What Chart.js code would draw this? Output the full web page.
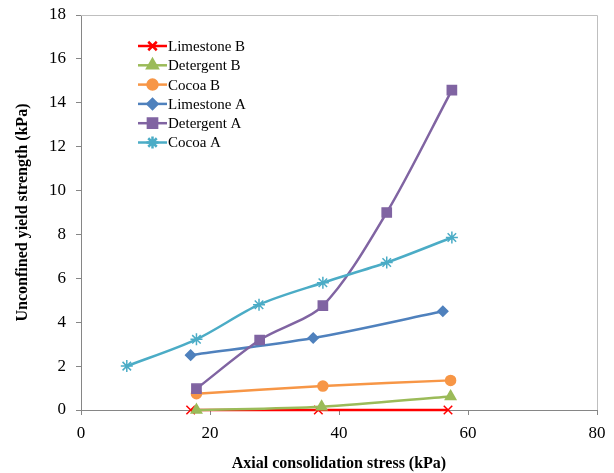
<!DOCTYPE html>
<html>
<head>
<meta charset="utf-8">
<script src="https://cdn.jsdelivr.net/npm/chart.js@4.4.0/dist/chart.umd.min.js"></script>
<style>
  html, body { margin: 0; padding: 0; background: #fff; }
  #wrap { width: 614px; height: 473px; }
</style>
</head>
<body>
<div id="wrap"><canvas id="myChart"></canvas></div>
<script>
const seriesNames = ['Limestone B', 'Detergent B', 'Cocoa B', 'Limestone A', 'Detergent A', 'Cocoa A']

const limestoneBX = [17.0, 36.8, 56.9]
const limestoneBY = [0, 0, 0]
const detergentBX = [17.9, 37.3, 57.3]
const detergentBY = [0, 0.15, 0.62]
const cocoaBX = [17.9, 37.5, 57.3]
const cocoaBY = [0.74, 1.09, 1.35]
const limestoneAX = [17.0, 36.0, 56.1]
const limestoneAY = [2.5, 3.28, 4.5]
const detergentAX = [17.9, 27.7, 37.5, 47.4, 57.5]
const detergentAY = [0.97, 3.19, 4.76, 9.0, 14.58]
const cocoaAX = [7.1, 17.9, 27.6, 37.5, 47.4, 57.5]
const cocoaAY = [2.0, 3.22, 4.8, 5.8, 6.72, 7.86]

const xTicks = [0, 20, 40, 60, 80]
const yTicks = [0, 2, 4, 6, 8, 10, 12, 14, 16, 18]

function pts(xs, ys) {
  return xs.map((x, i) => ({ x: x, y: ys[i] }))
}

const styles = [
  { color: '#FF0000', point: 'crossRot', radius: 6 },
  { color: '#9BBB59', point: 'triangle', radius: 6 },
  { color: '#F79646', point: 'circle', radius: 5 },
  { color: '#4F81BD', point: 'rectRot', radius: 5 },
  { color: '#8064A2', point: 'rect', radius: 6.5 },
  { color: '#4BACC6', point: 'star', radius: 6 }
]

const allData = [
  pts(limestoneBX, limestoneBY),
  pts(detergentBX, detergentBY),
  pts(cocoaBX, cocoaBY),
  pts(limestoneAX, limestoneAY),
  pts(detergentAX, detergentAY),
  pts(cocoaAX, cocoaAY)
]

const datasets = seriesNames.map((name, i) => ({
  label: name,
  data: allData[i],
  showLine: true,
  clip: false,
  borderColor: styles[i].color,
  backgroundColor: styles[i].color,
  borderWidth: 2.5,
  tension: 0.3,
  pointStyle: styles[i].point,
  pointRadius: styles[i].radius,
  pointBorderWidth: 1.5,
  pointHoverRadius: styles[i].radius,
  order: seriesNames.length - i
}))

const serif = '"Liberation Serif", "Times New Roman", serif'

// light grey frame on the top and right of the plot
const framePlugin = {
  id: 'frame',
  beforeDatasetsDraw(chart) {
    const { ctx, chartArea: a } = chart
    ctx.save()
    ctx.strokeStyle = '#BFBFBF'
    ctx.lineWidth = 1
    ctx.beginPath()
    ctx.moveTo(a.left, a.top + 0.5)
    ctx.lineTo(a.right + 0.5, a.top + 0.5)
    ctx.lineTo(a.right + 0.5, a.bottom)
    ctx.stroke()
    ctx.restore()
  }
}

// legend drawn inside the plot area, top-left
const innerLegend = {
  id: 'innerLegend',
  afterDraw(chart) {
    const ctx = chart.ctx
    const x0 = 138, x1 = 167, y0 = 46, step = 19.3
    ctx.save()
    chart.data.datasets.forEach((ds, i) => {
      const y = y0 + i * step
      ctx.strokeStyle = ds.borderColor
      ctx.lineWidth = 2.5
      ctx.beginPath()
      ctx.moveTo(x0, y)
      ctx.lineTo(x1, y)
      ctx.stroke()
      ctx.fillStyle = ds.backgroundColor
      ctx.strokeStyle = ds.borderColor
      Chart.helpers.drawPoint(ctx, {
        pointStyle: ds.pointStyle,
        radius: ds.pointRadius,
        rotation: 0,
        borderWidth: ds.pointBorderWidth
      }, (x0 + x1) / 2, y)
      ctx.fillStyle = '#000'
      ctx.font = '15px ' + serif
      ctx.textBaseline = 'middle'
      ctx.textAlign = 'left'
      ctx.fillText(ds.label, x1 + 1, y + 1)
    })
    ctx.restore()
  }
}

new Chart(document.getElementById('myChart'), {
  type: 'scatter',
  data: { datasets: datasets },
  options: {
    responsive: true,
    maintainAspectRatio: false,
    animation: false,
    layout: { padding: { top: 15, right: 17, left: 0, bottom: 0 } },
    plugins: {
      legend: { display: false },
      tooltip: { enabled: false }
    },
    scales: {
      x: {
        type: 'linear',
        min: 0,
        max: 80,
        afterFit(scale) { scale.height = 63 },
        afterBuildTicks(scale) { scale.ticks = xTicks.map(v => ({ value: v })) },
        grid: { drawOnChartArea: false, drawTicks: true, tickLength: 5, color: '#868686' },
        border: { color: '#868686', width: 1 },
        ticks: { color: '#000', font: { family: serif, size: 17 }, padding: 8, maxRotation: 0 },
        title: {
          display: true,
          text: 'Axial consolidation stress (kPa)',
          color: '#000',
          font: { family: serif, size: 16, weight: 'bold' },
          padding: { top: 0, bottom: 0 }
        }
      },
      y: {
        type: 'linear',
        min: 0,
        max: 18,
        afterFit(scale) {
          scale.width = 81
          scale.paddingTop = 0
          scale.paddingBottom = 0
        },
        afterBuildTicks(scale) { scale.ticks = yTicks.map(v => ({ value: v })) },
        grid: { drawOnChartArea: false, drawTicks: true, tickLength: 5, color: '#868686' },
        border: { color: '#868686', width: 1 },
        ticks: { color: '#000', font: { family: serif, size: 17 }, padding: 10 },
        title: {
          display: true,
          text: 'Unconfined yield strength (kPa)',
          color: '#000',
          font: { family: serif, size: 16, weight: 'bold' },
          padding: { top: 13, bottom: 0 }
        }
      }
    }
  },
  plugins: [framePlugin, innerLegend]
})
</script>
</body>
</html>
